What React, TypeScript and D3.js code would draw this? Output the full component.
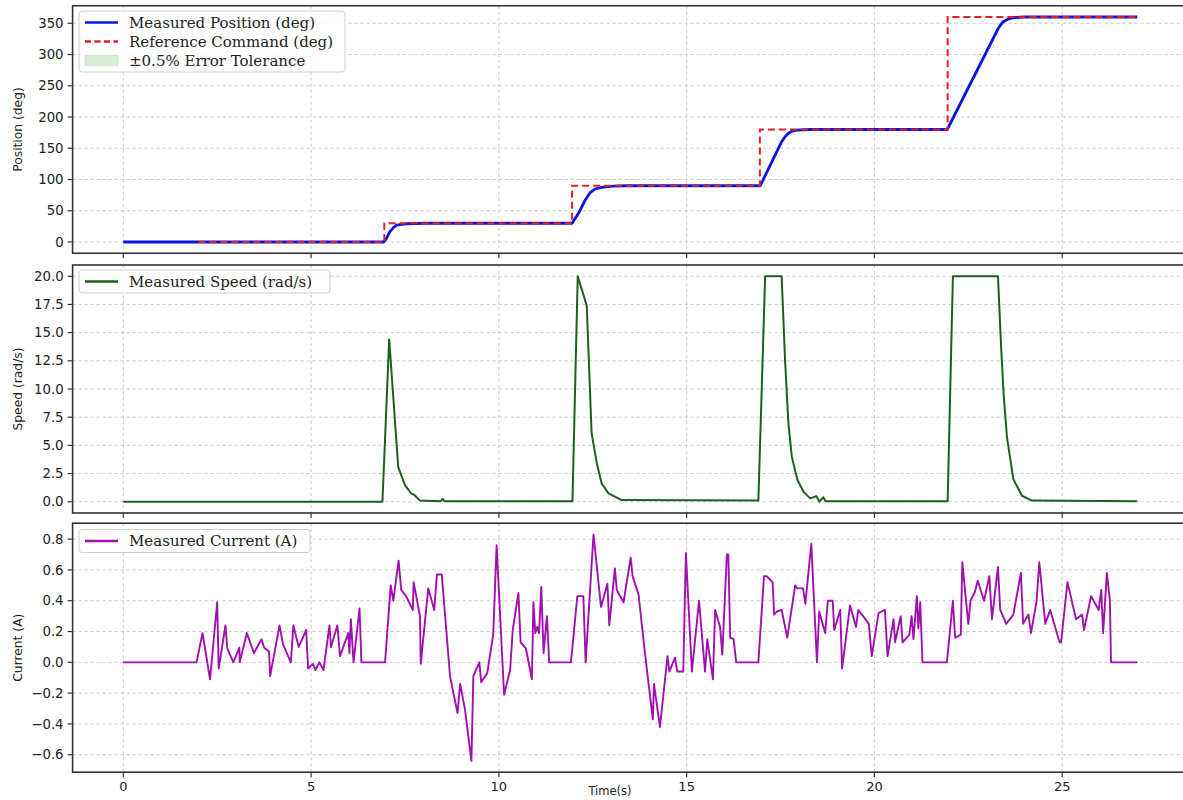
import React from "react";
import * as d3 from "d3";

// ---------- DATA ----------
const xTicks = [0, 5, 10, 15, 20, 25];
const posTicks = [0, 50, 100, 150, 200, 250, 300, 350];
const speedTicks = [0, 2.5, 5, 7.5, 10, 12.5, 15, 17.5, 20];
const currentTicks = [-0.6, -0.4, -0.2, 0, 0.2, 0.4, 0.6, 0.8];

const posTime = [
  0, 6.93, 7.0, 7.1, 7.2, 7.28, 7.4, 7.55, 8.0, 11.95,
  12.12, 12.3, 12.43, 12.56, 12.74, 13.05, 13.4, 16.96, 17.53, 17.62,
  17.71, 17.82, 17.93, 18.3, 21.94, 23.3, 23.37, 23.43, 23.55, 23.7,
  24.0, 27.0,
];
const posValues = [
  0, 0, 5, 16.5, 23.5, 27, 28.3, 29.2, 30, 30,
  45.9, 67.2, 78.9, 84.8, 87.5, 89.5, 90, 90, 160.5, 168.5,
  174, 177.5, 179, 180, 180, 342, 348, 352.5, 356.5, 359,
  360, 360,
];

const refTime = [2, 6.95, 6.95, 11.95, 11.95, 16.95, 16.95, 21.95, 21.95, 27];
const refValues = [0, 0, 30, 30, 90, 90, 180, 180, 360, 360];
const tolerancePct = 0.5;

const speedTime = [
  0, 6.9, 7.08, 7.32, 7.5, 7.66, 7.75, 7.9, 8.45, 8.5,
  8.55, 11.96, 12.1, 12.34, 12.47, 12.61, 12.74, 12.92, 13.27, 16.91,
  17.09, 17.53, 17.62, 17.71, 17.8, 17.95, 18.11, 18.29, 18.45, 18.54,
  18.64, 18.7, 21.95, 22.09, 23.29, 23.37, 23.44, 23.53, 23.7, 23.93,
  24.19, 27.0,
];
const speedValues = [
  0, 0, 14.4, 3.1, 1.48, 0.75, 0.6, 0.1, 0.05, 0.25,
  0.05, 0.05, 20, 17.4, 6.06, 3.4, 1.6, 0.74, 0.15, 0.1,
  20, 20, 12.6, 6.95, 4.0, 1.92, 0.9, 0.3, 0.5, 0.0,
  0.4, 0.05, 0.05, 20, 20, 14.0, 9.57, 5.7, 2.0, 0.53,
  0.1, 0.05,
];

const currentTime = [
  0, 1.95, 2.11, 2.31, 2.5, 2.54, 2.72, 2.77, 2.93, 3.09,
  3.1, 3.29, 3.48, 3.68, 3.75, 3.88, 3.91, 4.16, 4.25, 4.46,
  4.53, 4.67, 4.87, 4.92, 5.05, 5.12, 5.22, 5.33, 5.49, 5.53,
  5.7, 5.77, 5.99, 6.02, 6.06, 6.13, 6.29, 6.34, 6.97, 7.12,
  7.19, 7.33, 7.4, 7.53, 7.71, 7.73, 7.9, 7.92, 8.12, 8.28,
  8.35, 8.48, 8.7, 8.9, 8.97, 9.1, 9.27, 9.32, 9.48, 9.53,
  9.69, 9.85, 9.94, 10.14, 10.3, 10.37, 10.52, 10.58, 10.72, 10.88,
  10.92, 10.97, 11.02, 11.07, 11.13, 11.19, 11.28, 11.34, 11.92, 12.09,
  12.25, 12.31, 12.52, 12.72, 12.89, 12.94, 13.09, 13.14, 13.32, 13.51,
  13.56, 13.72, 13.89, 14.1, 14.13, 14.29, 14.49, 14.54, 14.69, 14.75,
  14.91, 14.98, 15.14, 15.33, 15.49, 15.55, 15.7, 15.76, 15.89, 15.95,
  16.07, 16.11, 16.16, 16.25, 16.32, 16.91, 17.06, 17.13, 17.29, 17.33,
  17.4, 17.53, 17.68, 17.89, 17.95, 18.1, 18.16, 18.32, 18.47, 18.53,
  18.69, 18.76, 18.89, 18.93, 19.09, 19.14, 19.35, 19.51, 19.57, 19.7,
  19.85, 19.93, 20.11, 20.28, 20.35, 20.51, 20.55, 20.7, 20.75, 20.93,
  20.99, 21.04, 21.13, 21.17, 21.22, 21.28, 21.93, 22.09, 22.15, 22.3,
  22.34, 22.5, 22.56, 22.68, 22.75, 22.92, 23.06, 23.13, 23.29, 23.35,
  23.51, 23.7, 23.9, 23.96, 24.1, 24.17, 24.32, 24.39, 24.55, 24.68,
  24.93, 24.97, 25.14, 25.37, 25.53, 25.58, 25.77, 25.97, 26.04, 26.09,
  26.19, 26.27, 26.3, 27.0,
];
const currentValues = [
  0, 0, 0.19, -0.11, 0.39, -0.04, 0.24, 0.09, 0.0, 0.095,
  0.0, 0.19, 0.06, 0.15, 0.095, 0.07, -0.09, 0.24, 0.12, 0.0,
  0.24, 0.1, 0.21, -0.04, -0.01, -0.05, 0.0, -0.05, 0.24, 0.1,
  0.24, 0.04, 0.19, 0.06, 0.28, 0.0, 0.35, 0.0, 0.0, 0.5,
  0.4, 0.66, 0.47, 0.43, 0.34, 0.52, 0.3, -0.01, 0.48, 0.34,
  0.57, 0.57, -0.09, -0.33, -0.14, -0.31, -0.64, -0.09, 0.0, -0.13,
  -0.07, 0.18, 0.76, -0.21, -0.05, 0.21, 0.45, 0.13, 0.09, -0.11,
  0.39, 0.19, 0.23, 0.19, 0.49, 0.06, 0.3, 0.0, 0.0, 0.43,
  0.43, 0.0, 0.83, 0.36, 0.51, 0.24, 0.61, 0.47, 0.39, 0.68,
  0.56, 0.44, 0.06, -0.37, -0.14, -0.42, 0.04, -0.06, 0.03, -0.06,
  -0.06, 0.71, -0.06, 0.4, -0.06, 0.15, -0.11, 0.34, 0.23, 0.05,
  0.7, 0.7, 0.16, 0.15, 0.0, 0.0, 0.56, 0.56, 0.52, 0.31,
  0.33, 0.34, 0.16, 0.5, 0.48, 0.48, 0.38, 0.77, 0.0, 0.33,
  0.19, 0.4, 0.4, 0.21, 0.34, -0.04, 0.37, 0.23, 0.34, 0.3,
  0.25, 0.04, 0.32, 0.34, 0.04, 0.28, 0.13, 0.3, 0.13, 0.18,
  0.3, 0.15, 0.43, 0.22, 0.39, 0.0, 0.0, 0.4, 0.16, 0.18,
  0.65, 0.25, 0.4, 0.46, 0.53, 0.4, 0.56, 0.28, 0.62, 0.34,
  0.25, 0.31, 0.58, 0.25, 0.31, 0.19, 0.4, 0.65, 0.25, 0.34,
  0.13, 0.13, 0.52, 0.28, 0.31, 0.21, 0.43, 0.34, 0.47, 0.19,
  0.58, 0.4, 0.0, 0.0,
];

const labels = {
  pos: "Measured Position (deg)",
  ref: "Reference Command (deg)",
  tol: "±0.5% Error Tolerance",
  speed: "Measured Speed (rad/s)",
  current: "Measured Current (A)",
};

// ---------- LAYOUT ----------
const W = 1183;
const H = 800;
const X0 = 72.6;
const X1 = 1188;
const panels = {
  pos: { top: 5.75, bottom: 253.25, domain: [-18, 378] },
  speed: { top: 265, bottom: 513, domain: [-1, 21] },
  current: { top: 523.2, bottom: 772.2, domain: [-0.7135, 0.9035] },
};

const SANS = "'DejaVu Sans', sans-serif";
const SERIF = "'DejaVu Serif', serif";
const AXIS = "#333";
const GRID = "#c8c8c8";

const zip = (a: number[], b: number[]) => {
  const n = Math.min(a.length, b.length);
  return d3.range(n).map((i) => [a[i], b[i]] as [number, number]);
};

function fmtMinus(s: string) {
  return s.replace("-", "\u2212");
}

function Panel(props: {
  cfg: { top: number; bottom: number; domain: number[] };
  ticks: number[];
  fmt: (v: number) => string;
  ylabel: string;
  xLabels: boolean;
  children: (y: d3.ScaleLinear<number, number>) => React.ReactNode;
}) {
  const { cfg, ticks, fmt, ylabel, xLabels } = props;
  const x = d3.scaleLinear().domain([-1.35, 28.35]).range([X0, X1]);
  const y = d3.scaleLinear().domain(cfg.domain).range([cfg.bottom, cfg.top]);
  const clipId = "clip" + Math.round(cfg.top);
  const mid = (cfg.top + cfg.bottom) / 2;
  return (
    <g>
      <defs>
        <clipPath id={clipId}>
          <rect x={X0} y={cfg.top} width={X1 - X0} height={cfg.bottom - cfg.top} />
        </clipPath>
      </defs>
      {xTicks.map((t) => (
        <line key={"gx" + t} x1={x(t)} x2={x(t)} y1={cfg.top} y2={cfg.bottom} stroke={GRID} strokeWidth={1} strokeDasharray="3,3" />
      ))}
      {ticks.map((t) => (
        <line key={"gy" + t} x1={X0} x2={X1} y1={y(t)} y2={y(t)} stroke={GRID} strokeWidth={1} strokeDasharray="3,3" />
      ))}
      <g clipPath={`url(#${clipId})`}>{props.children(y)}</g>
      <rect x={X0} y={cfg.top} width={X1 - X0} height={cfg.bottom - cfg.top} fill="none" stroke={AXIS} strokeWidth={1.6} />
      {ticks.map((t) => (
        <g key={"ty" + t}>
          <line x1={X0 - 5} x2={X0} y1={y(t)} y2={y(t)} stroke={AXIS} strokeWidth={1.2} />
          <text x={X0 - 9} y={y(t)} dy="0.35em" textAnchor="end" fontFamily={SANS} fontSize={13.3} fill="#222">
            {fmt(t)}
          </text>
        </g>
      ))}
      {xTicks.map((t) => (
        <g key={"tx" + t}>
          <line x1={x(t)} x2={x(t)} y1={cfg.bottom} y2={cfg.bottom + 5} stroke={AXIS} strokeWidth={1.2} />
          {xLabels && (
            <text x={x(t)} y={cfg.bottom + 19} textAnchor="middle" fontFamily={SANS} fontSize={13} fill="#222">
              {String(t)}
            </text>
          )}
        </g>
      ))}
      <text transform={`translate(22,${mid}) rotate(-90)`} textAnchor="middle" fontFamily={SANS} fontSize={12.3} fill="#222">
        {ylabel}
      </text>
    </g>
  );
}

function Legend(props: { x: number; y: number; w: number; items: { label: string; kind: string; color: string }[] }) {
  const { x, y, w, items } = props;
  const rowH = 19;
  const h = items.length * rowH + 4;
  return (
    <g>
      <rect x={x} y={y} width={w} height={h} rx={3} fill="white" fillOpacity={0.85} stroke="#cfcfcf" strokeWidth={1} />
      {items.map((it, i) => {
        const cy = y + 11.5 + i * rowH;
        return (
          <g key={it.label}>
            {it.kind === "line" && <line x1={x + 6} x2={x + 39} y1={cy} y2={cy} stroke={it.color} strokeWidth={2.4} />}
            {it.kind === "dash" && (
              <line x1={x + 6} x2={x + 39} y1={cy} y2={cy} stroke={it.color} strokeWidth={2.4} strokeDasharray="6,3.5" />
            )}
            {it.kind === "patch" && (
              <rect x={x + 6} y={cy - 5} width={33} height={10} fill="#cfe8cf" fillOpacity={0.8} stroke="#b8dab8" strokeWidth={0.6} />
            )}
            <text x={x + 50} y={cy} dy="0.35em" fontFamily={SERIF} fontSize={15} fill="#222">
              {it.label}
            </text>
          </g>
        );
      })}
    </g>
  );
}

export default function App() {
  const x = d3.scaleLinear().domain([-1.35, 28.35]).range([X0, X1]);
  const posData = zip(posTime, posValues);
  const refData = zip(refTime, refValues);
  const speedData = zip(speedTime, speedValues);
  const currentData = zip(currentTime, currentValues);

  return (
    <svg width={W} height={H} style={{ display: "block", position: "absolute", left: 0, top: 0, background: "white" }}>
      <rect x={0} y={0} width={W} height={H} fill="white" />
      <Panel cfg={panels.pos} ticks={posTicks} fmt={(v) => String(v)} ylabel="Position (deg)" xLabels={false}>
        {(y) => {
          const band = d3
            .area<[number, number]>()
            .x((d) => x(d[0]))
            .y0((d) => y(d[1] * (1 - tolerancePct / 100)))
            .y1((d) => y(d[1] * (1 + tolerancePct / 100)));
          const posLine = d3
            .line<[number, number]>()
            .x((d) => x(d[0]))
            .y((d) => y(d[1]));
          const refLine = d3
            .line<[number, number]>()
            .x((d) => x(d[0]))
            .y((d) => y(d[1]));
          return (
            <g>
              <path d={band(refData) || ""} fill="#2ca02c" fillOpacity={0.15} />
              <path d={posLine(posData) || ""} fill="none" stroke="#0a14e6" strokeWidth={2.8} strokeLinejoin="round" />
              <path d={refLine(refData) || ""} fill="none" stroke="#e0201f" strokeWidth={2} strokeDasharray="7,4" />
            </g>
          );
        }}
      </Panel>
      <Panel cfg={panels.speed} ticks={speedTicks} fmt={(v) => v.toFixed(1)} ylabel="Speed (rad/s)" xLabels={false}>
        {(y) => {
          const line = d3
            .line<[number, number]>()
            .x((d) => x(d[0]))
            .y((d) => y(d[1]));
          return <path d={line(speedData) || ""} fill="none" stroke="#1e5e1e" strokeWidth={2} strokeLinejoin="round" />;
        }}
      </Panel>
      <Panel cfg={panels.current} ticks={currentTicks} fmt={(v) => fmtMinus(v.toFixed(1))} ylabel="Current (A)" xLabels={true}>
        {(y) => {
          const line = d3
            .line<[number, number]>()
            .x((d) => x(d[0]))
            .y((d) => y(d[1]));
          return <path d={line(currentData) || ""} fill="none" stroke="#a010b0" strokeWidth={1.9} strokeLinejoin="round" />;
        }}
      </Panel>
      <text x={610} y={795} textAnchor="middle" fontFamily={SANS} fontSize={11.5} fill="#222">
        Time(s)
      </text>
      <Legend
        x={79}
        y={11}
        w={266}
        items={[
          { label: labels.pos, kind: "line", color: "#0a14e6" },
          { label: labels.ref, kind: "dash", color: "#e0201f" },
          { label: labels.tol, kind: "patch", color: "#cfe8cf" },
        ]}
      />
      <Legend x={79} y={270} w={251} items={[{ label: labels.speed, kind: "line", color: "#1e5e1e" }]} />
      <Legend x={79} y={529.5} w={231} items={[{ label: labels.current, kind: "line", color: "#a010b0" }]} />
    </svg>
  );
}
